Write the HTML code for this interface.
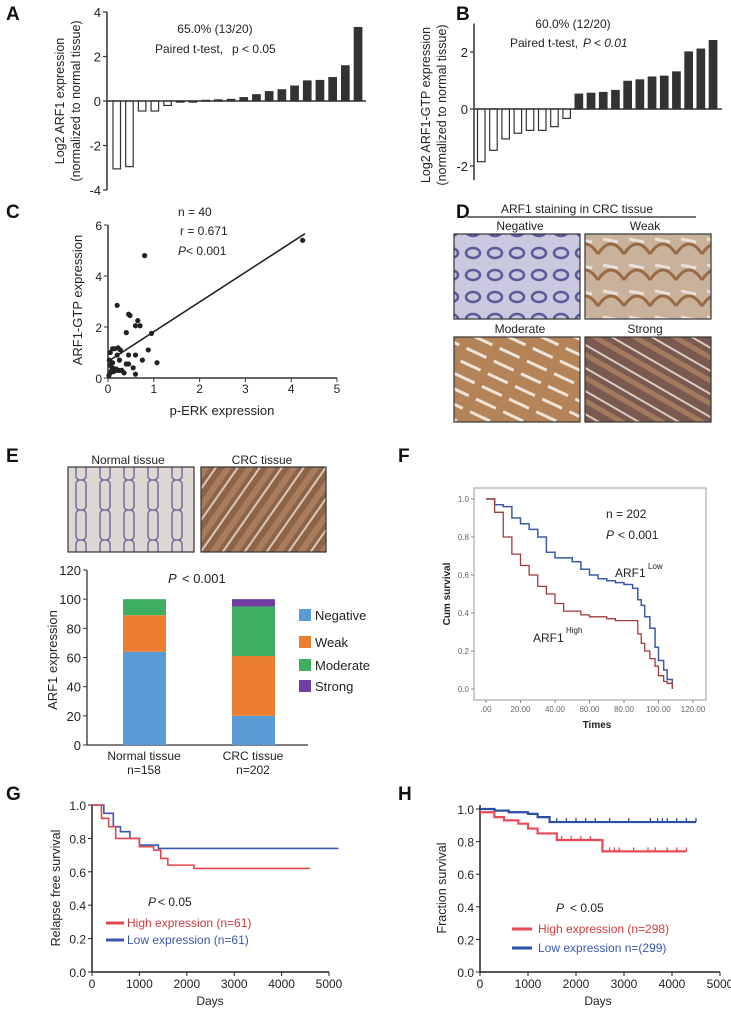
<!DOCTYPE html>
<html><head><meta charset="utf-8">
<style>
html,body{margin:0;padding:0;background:#fff;}
svg{display:block;font-family:"Liberation Sans",Arial,sans-serif;}
</style></head>
<body>
<svg id="fig" width="731" height="1011" viewBox="0 0 731 1011" xmlns="http://www.w3.org/2000/svg">
<defs>
<pattern id="pNeg" width="22" height="22" patternUnits="userSpaceOnUse"><rect width="22" height="22" fill="#c9c8de"/><ellipse cx="11" cy="11" rx="7" ry="5" fill="none" stroke="#5a5a9a" stroke-width="2.5"/></pattern>
<pattern id="pWeak" width="26" height="26" patternUnits="userSpaceOnUse"><rect width="26" height="26" fill="#c9b29c"/><path d="M0 20 Q13 0 26 20" fill="none" stroke="#9a6a45" stroke-width="3"/><path d="M5 5 L20 8" stroke="#e8e0d8" stroke-width="3"/></pattern>
<pattern id="pMod" width="30" height="14" patternUnits="userSpaceOnUse" patternTransform="rotate(25)"><rect width="30" height="14" fill="#b48458"/><rect y="5" width="22" height="3" fill="#efe4da"/></pattern>
<pattern id="pStr" width="20" height="20" patternUnits="userSpaceOnUse" patternTransform="rotate(-60)"><rect width="20" height="20" fill="#7a5a50"/><rect x="3" width="5" height="20" fill="#a37a5c"/><rect x="13" width="2" height="20" fill="#d9cbc2"/></pattern>
<pattern id="pNorm" width="24" height="30" patternUnits="userSpaceOnUse"><rect width="24" height="30" fill="#ddd6d2"/><rect x="4" y="0" width="10" height="30" rx="4" fill="none" stroke="#6f6fa0" stroke-width="1.5"/></pattern>
<pattern id="pCrc" width="18" height="18" patternUnits="userSpaceOnUse" patternTransform="rotate(35)"><rect width="18" height="18" fill="#8e6448"/><rect x="2" width="6" height="18" fill="#a87c5c"/><rect x="12" width="2" height="18" fill="#d8c8bc"/></pattern>
</defs>
</svg>
<script>
// ---------------- DATA ----------------
const aValues = [-3.05,-2.95,-0.45,-0.45,-0.2,-0.05,-0.05,0.03,0.05,0.07,0.15,0.28,0.42,0.5,0.67,0.9,0.92,1.05,1.58,3.3];
const aTicks = [4,2,0,-2,-4];
const bValues = [-1.85,-1.45,-1.05,-0.85,-0.75,-0.75,-0.62,-0.33,0.52,0.55,0.58,0.65,0.97,1.02,1.12,1.15,1.3,2.0,2.1,2.4];
const bTicks = [2,0,-2];
const cX = [0.8,4.25,0.2,0.45,0.48,0.65,0.7,0.6,0.4,0.95,0.15,0.22,0.1,0.27,0.88,0.05,0.2,0.45,0.6,0.75,0.25,0.1,1.07,0.4,0.45,0.55,0.05,0.1,0.15,0.2,0.3,0.35,0.05,0.08,0.12,0.6,0.02,0.18,0.25,0.03];
const cY = [4.8,5.4,2.85,2.5,2.45,2.25,2.05,2.05,1.78,1.75,1.15,1.18,1.15,1.1,1.1,1.0,0.9,0.9,0.9,0.7,0.7,0.6,0.6,0.55,0.55,0.4,0.5,0.4,0.35,0.3,0.3,0.2,0.2,0.3,0.25,0.15,0.1,0.35,0.3,0.7];
const cFit = [0.65,1.165];
const cXTicks = [0,1,2,3,4,5];
const cYTicks = [0,2,4,6];
const eGroups = ["Normal tissue","CRC tissue"];
const eCounts = ["n=158","n=202"];
const eCats = ["Negative","Weak","Moderate","Strong"];
const eNormal = [64,25,11,0];
const eCrc = [20,41,34,5];
const eColors = ["#5b9bd5","#ed7d31","#3fae60","#6f3ea0"];
const eTicks = [0,20,40,60,80,100,120];
const fTimes = [0,5,10,15,20,25,30,35,40,45,50,55,60,65,70,75,80,85,88,90,92,95,98,100,103,105,108];
const fLow = [1.0,0.97,0.96,0.9,0.87,0.84,0.8,0.72,0.69,0.69,0.67,0.63,0.6,0.58,0.57,0.56,0.55,0.53,0.47,0.44,0.38,0.32,0.22,0.15,0.1,0.05,0.01];
const fHigh = [1.0,0.93,0.8,0.71,0.65,0.6,0.54,0.5,0.45,0.41,0.41,0.39,0.38,0.38,0.37,0.36,0.36,0.36,0.29,0.24,0.2,0.16,0.12,0.07,0.04,0.03,0.0];
const fXTicks = [0,20,40,60,80,100,120];
const fXLabels = [".00","20.00","40.00","60.00","80.00","100.00","120.00"];
const fYTicks = [0,0.2,0.4,0.6,0.8,1.0];
const fYLabels = ["0.0","0.2","0.4","0.6","0.8","1.0"];
const gTimes = [0,200,350,500,900,1000,1300,1450,1600,2150,4600];
const gHigh = [1.0,0.92,0.87,0.8,0.8,0.75,0.73,0.68,0.64,0.62,0.62];
const gLowTimes = [0,250,450,600,800,1000,1400,5200];
const gLow = [1.0,0.95,0.87,0.84,0.8,0.76,0.74,0.74];
const gXTicks = [0,1000,2000,3000,4000,5000];
const gYTicks = [0,0.2,0.4,0.6,0.8,1.0];
const hLowTimes = [0,300,600,1000,1200,1450,4500];
const hLow = [1.0,0.99,0.98,0.97,0.95,0.92,0.92];
const hLowCensor = [1600,1800,2000,2200,2400,2700,3100,3550,3700,3800,3900,4100,4300,4500];
const hHighTimes = [0,300,500,800,1000,1200,1600,2550,4300];
const hHigh = [0.98,0.95,0.93,0.91,0.88,0.85,0.81,0.74,0.74];
const hHighCensor = [1700,1900,2100,2300,2700,2800,2900,3200,3500,3650,3900,4100,4300];
const hXTicks = [0,1000,2000,3000,4000,5000];
const hYTicks = [0,0.2,0.4,0.6,0.8,1.0];

// ---------------- HELPERS ----------------
const NS="http://www.w3.org/2000/svg";
const svg=document.getElementById('fig');
function mk(tag,attrs,parent){const e=document.createElementNS(NS,tag);for(const k in attrs)e.setAttribute(k,attrs[k]);(parent||svg).appendChild(e);return e;}
function txt(x,y,s,size,anchor,parent,extra){const t=mk('text',Object.assign({x:x,y:y,'font-size':size,'text-anchor':anchor||'start',fill:'#222'},extra||{}),parent);t.textContent=s;return t;}
function lin(d0,d1,r0,r1){return v=>r0+(v-d0)*(r1-r0)/(d1-d0);}
function stepPath(ts,vs,sx,sy){let d='M'+sx(ts[0])+' '+sy(vs[0]);for(let i=1;i<ts.length;i++){d+=' H'+sx(ts[i])+' V'+sy(vs[i]);}return d;}
function stepVal(ts,vs,t){let v=vs[0];for(let i=0;i<ts.length;i++){if(ts[i]<=t)v=vs[i];}return v;}

// panel letters
[["A",6,20],["B",456,20],["C",6,218],["D",456,218],["E",6,462],["F",398,462],["G",6,800],["H",398,800]].forEach(p=>{
 const t=txt(p[1],p[2],p[0],19,'start',svg,{'font-weight':'bold',fill:'#111'});
 
 
});

// ---------------- PANEL A ----------------
(function(){
 const g=mk('g',{});
 
 
 const y=lin(0,4,101,12); const x0=111, step=12.7, bw=7.5;
 aValues.forEach((v,i)=>{
  const top=Math.min(y(v),y(0)), h=Math.abs(y(v)-y(0));
  const r=mk('rect',{x:x0+i*step+2,y:top,width:bw,height:Math.max(h,0.8),fill:v<0?'#fff':'#333',stroke:'#333','stroke-width':1.2},g);
  
  
 });
 mk('line',{x1:107,y1:y(0),x2:366,y2:y(0),stroke:'#333','stroke-width':1.5},g);
 mk('line',{x1:107,y1:y(4),x2:107,y2:y(-4),stroke:'#333','stroke-width':1.5},g);
 aTicks.forEach(t=>{mk('line',{x1:103,y1:y(t),x2:107,y2:y(t),stroke:'#333','stroke-width':1.2},g);txt(101,y(t)+5,String(t),13,'end',g);});
 const yl=txt(0,0,'Log2 ARF1 expression',12.5,'middle',g,{transform:'translate(64,101) rotate(-90)'});
 
 
 txt(0,0,'(normalized to normal tissue)',12.5,'middle',g,{transform:'translate(80,101) rotate(-90)'});
 txt(215,33,'65.0% (13/20)',12,'middle',g);
 txt(155,53,'Paired t-test,',12,'start',g);
 txt(232,53,'p < 0.05',12,'start',g);
})();

// ---------------- PANEL B ----------------
(function(){
 const g=mk('g',{});
 
 
 const y=lin(0,2,109,52); const x0=476, step=12.2, bw=7.5;
 bValues.forEach((v,i)=>{
  const top=Math.min(y(v),y(0)), h=Math.abs(y(v)-y(0));
  const r=mk('rect',{x:x0+i*step+1.5,y:top,width:bw,height:h,fill:v<0?'#fff':'#333',stroke:'#333','stroke-width':1.2},g);
  
  
 });
 mk('line',{x1:474,y1:y(0),x2:722,y2:y(0),stroke:'#333','stroke-width':1.5},g);
 mk('line',{x1:474,y1:y(3),x2:474,y2:y(-2.5),stroke:'#333','stroke-width':1.5},g);
 bTicks.forEach(t=>{mk('line',{x1:470,y1:y(t),x2:474,y2:y(t),stroke:'#333','stroke-width':1.2},g);txt(468,y(t)+5,String(t),13,'end',g);});
 txt(0,0,'Log2 ARF1-GTP expression',12.5,'middle',g,{transform:'translate(430,105) rotate(-90)'});
 txt(0,0,'(normalized to normal tissue)',12.5,'middle',g,{transform:'translate(446,105) rotate(-90)'});
 txt(573,28,'60.0% (12/20)',12,'middle',g);
 txt(510,47,'Paired t-test,',12,'start',g);
 txt(583,47,'P < 0.01',12,'start',g,{'font-style':'italic'});
})();

// ---------------- PANEL C ----------------
(function(){
 const g=mk('g',{});
 
 
 const x=lin(0,5,108,337), y=lin(0,6,378,225);
 mk('line',{x1:108,y1:378,x2:337,y2:378,stroke:'#333','stroke-width':1.5},g);
 mk('line',{x1:108,y1:378,x2:108,y2:225,stroke:'#333','stroke-width':1.5},g);
 cXTicks.forEach(t=>{mk('line',{x1:x(t),y1:378,x2:x(t),y2:382,stroke:'#333'},g);txt(x(t),393,String(t),12,'middle',g);});
 cYTicks.forEach(t=>{mk('line',{x1:104,y1:y(t),x2:108,y2:y(t),stroke:'#333'},g);txt(102,y(t)+5,String(t),12,'end',g);});
 const fl=mk('line',{x1:x(0),y1:y(cFit[0]),x2:x(4.3),y2:y(cFit[0]+cFit[1]*4.3),stroke:'#222','stroke-width':1.6},g);
 
 
 cX.forEach((v,i)=>{
  const c=mk('circle',{cx:x(v),cy:y(cY[i]),r:2.6,fill:'#222'},g);
  
  
 });
 txt(222,415,'p-ERK expression',13,'middle',g);
 txt(0,0,'ARF1-GTP expression',13,'middle',g,{transform:'translate(82,300) rotate(-90)'});
 txt(178,216,'n = 40',12,'start',g);
 txt(180,235,'r = 0.671',12,'start',g);
 txt(178,255,'P',12,'start',g,{'font-style':'italic'});
 txt(186,255,'< 0.001',12,'start',g);
})();

// ---------------- PANEL D ----------------
(function(){
 const g=mk('g',{});
 
 
 txt(577,213,'ARF1 staining in CRC tissue',12,'middle',g);
 mk('line',{x1:467,y1:217,x2:696,y2:217,stroke:'#222','stroke-width':1.2},g);
 txt(520,230,'Negative',12,'middle',g);
 txt(645,230,'Weak',12,'middle',g);
 txt(520,333,'Moderate',12,'middle',g);
 txt(645,333,'Strong',12,'middle',g);
 [["pNeg",454,234,'image-negative'],["pWeak",585,234,'image-weak'],["pMod",454,337,'image-moderate'],["pStr",585,337,'image-strong']].forEach(p=>{
  const r=mk('rect',{x:p[1],y:p[2],width:126,height:85,fill:'url(#'+p[0]+')',stroke:'#333','stroke-width':1.2},g);
  
  
 });
})();

// ---------------- PANEL E ----------------
(function(){
 const g=mk('g',{});
 
 
 txt(128,464,'Normal tissue',12,'middle',g);
 txt(262,464,'CRC tissue',12,'middle',g);
 const i1=mk('rect',{x:68,y:467,width:126,height:85,fill:'url(#pNorm)',stroke:'#333','stroke-width':1.2},g);
 
 
 const i2=mk('rect',{x:201,y:467,width:125,height:85,fill:'url(#pCrc)',stroke:'#333','stroke-width':1.2},g);
 
 
 const y=lin(0,120,745,570);
 mk('line',{x1:87,y1:570,x2:87,y2:745,stroke:'#333','stroke-width':1.3},g);
 mk('line',{x1:87,y1:745,x2:308,y2:745,stroke:'#333','stroke-width':1.3},g);
 eTicks.forEach(t=>{mk('line',{x1:83,y1:y(t),x2:87,y2:y(t),stroke:'#333'},g);txt(81,y(t)+5,String(t),13,'end',g);});
 [eNormal,eCrc].forEach((vals,gi)=>{
  let acc=0; const bx=gi===0?123:232;
  vals.forEach((v,ci)=>{
   if(v<=0)return;
   const r=mk('rect',{x:bx,y:y(acc+v),width:43,height:y(acc)-y(acc+v),fill:eColors[ci]},g);
   
   
   acc+=v;
  });
  txt(bx+21,760,eGroups[gi],12,'middle',g);
  txt(bx+21,774,eCounts[gi],12,'middle',g);
 });
 txt(0,0,'ARF1 expression',13,'middle',g,{transform:'translate(57,660) rotate(-90)'});
 txt(168,583,'P',13,'start',g,{'font-style':'italic'});
 txt(182,583,'< 0.001',13,'start',g);
 eCats.forEach((c,i)=>{
  const ly=[615,642,665,686][i];
  const r=mk('rect',{x:299,y:ly-6,width:12,height:12,fill:eColors[i]},g);
  
  
  txt(315,ly+5,c,13,'start',g);
 });
})();

// ---------------- PANEL F ----------------
(function(){
 const g=mk('g',{});
 
 
 mk('rect',{x:474,y:488,width:232,height:212,fill:'none',stroke:'#999','stroke-width':1},g);
 const x=lin(0,120,486,693), y=lin(0,1,689,499);
 fXTicks.forEach((t,i)=>{mk('line',{x1:x(t),y1:700,x2:x(t),y2:703,stroke:'#888'},g);txt(x(t),712,fXLabels[i],8,'middle',g,{fill:'#666'});});
 fYTicks.forEach((t,i)=>{mk('line',{x1:471,y1:y(t),x2:474,y2:y(t),stroke:'#888'},g);txt(469,y(t)+3,fYLabels[i],8,'end',g,{fill:'#666'});});
 const pl=mk('path',{d:stepPath(fTimes,fLow,x,y),fill:'none',stroke:'#3b5ba8','stroke-width':1.5},g);
 
 
 const ph=mk('path',{d:stepPath(fTimes,fHigh,x,y),fill:'none',stroke:'#a33a3a','stroke-width':1.3},g);
 
 
 txt(597,728,'Times',10,'middle',g,{'font-weight':'bold'});
 txt(0,0,'Cum survival',10,'middle',g,{transform:'translate(450,594) rotate(-90)','font-weight':'bold'});
 txt(606,518,'n  = 202',12,'start',g);
 txt(606,539,'P',12,'start',g,{'font-style':'italic'});
 txt(618,539,'< 0.001',12,'start',g);
 txt(615,577,'ARF1',12,'start',g);
 txt(648,569,'Low',8,'start',g);
 txt(533,642,'ARF1',12,'start',g);
 txt(566,633,'High',8,'start',g);
})();

// ---------------- PANEL G ----------------
(function(){
 const g=mk('g',{});
 
 
 const x=lin(0,5000,92,329), y=lin(0,1,972,805);
 mk('line',{x1:92,y1:972,x2:329,y2:972,stroke:'#222','stroke-width':1.5},g);
 mk('line',{x1:92,y1:972,x2:92,y2:805,stroke:'#222','stroke-width':1.5},g);
 gXTicks.forEach(t=>{mk('line',{x1:x(t),y1:972,x2:x(t),y2:976,stroke:'#222'},g);txt(x(t),988,String(t),12,'middle',g);});
 gYTicks.forEach(t=>{mk('line',{x1:88,y1:y(t),x2:92,y2:y(t),stroke:'#222'},g);txt(86,y(t)+5,t.toFixed(1),12,'end',g);});
 const pl=mk('path',{d:stepPath(gLowTimes,gLow,x,y),fill:'none',stroke:'#3c57b0','stroke-width':1.6},g);
 
 
 const ph=mk('path',{d:stepPath(gTimes,gHigh,x,y),fill:'none',stroke:'#e0474c','stroke-width':1.6},g);
 
 
 txt(210,1005,'Days',12,'middle',g);
 txt(0,0,'Relapse free survival',12.5,'middle',g,{transform:'translate(60,888) rotate(-90)'});
 txt(148,906,'P',12,'start',g,{'font-style':'italic'});
 txt(158,906,'< 0.05',12,'start',g);
 mk('line',{x1:106,y1:923,x2:124,y2:923,stroke:'#e0474c','stroke-width':3},g);
 txt(127,927,'High expression (n=61)',12,'start',g,{fill:'#d03a3e'});
 mk('line',{x1:106,y1:940,x2:124,y2:940,stroke:'#3c57b0','stroke-width':3},g);
 txt(127,944,'Low expression (n=61)',12,'start',g,{fill:'#3c57b0'});
})();

// ---------------- PANEL H ----------------
(function(){
 const g=mk('g',{});
 
 
 const x=lin(0,5000,480,720), y=lin(0,1,972,809);
 mk('line',{x1:480,y1:972,x2:720,y2:972,stroke:'#222','stroke-width':1.5},g);
 mk('line',{x1:480,y1:972,x2:480,y2:805,stroke:'#222','stroke-width':1.5},g);
 hXTicks.forEach(t=>{mk('line',{x1:x(t),y1:972,x2:x(t),y2:976,stroke:'#222'},g);txt(x(t),988,String(t),12,'middle',g);});
 hYTicks.forEach(t=>{mk('line',{x1:476,y1:y(t),x2:480,y2:y(t),stroke:'#222'},g);txt(474,y(t)+5,t.toFixed(1),12,'end',g);});
 const pl=mk('path',{d:stepPath(hLowTimes,hLow,x,y),fill:'none',stroke:'#2a4fa8','stroke-width':2.2},g);
 
 
 hLowCensor.forEach(t=>{const yy=y(stepVal(hLowTimes,hLow,t));mk('line',{x1:x(t),y1:yy-4,x2:x(t),y2:yy,stroke:'#2a4fa8','stroke-width':1.3},g);});
 const ph=mk('path',{d:stepPath(hHighTimes,hHigh,x,y),fill:'none',stroke:'#ea4a55','stroke-width':2.2},g);
 
 
 hHighCensor.forEach(t=>{const yy=y(stepVal(hHighTimes,hHigh,t));mk('line',{x1:x(t),y1:yy-4,x2:x(t),y2:yy,stroke:'#ea4a55','stroke-width':1.3},g);});
 txt(598,1005,'Days',12,'middle',g);
 txt(0,0,'Fraction survival',12.5,'middle',g,{transform:'translate(446,888) rotate(-90)'});
 txt(556,912,'P',12,'start',g,{'font-style':'italic'});
 txt(570,912,'< 0.05',12,'start',g);
 mk('line',{x1:512,y1:929,x2:532,y2:929,stroke:'#ea4a55','stroke-width':3},g);
 txt(538,933,'High expression (n=298)',12,'start',g,{fill:'#d03a3e'});
 mk('line',{x1:512,y1:948,x2:532,y2:948,stroke:'#2a4fa8','stroke-width':3},g);
 txt(538,952,'Low expression n=(299)',12,'start',g,{fill:'#3c57b0'});
})();
</script>
</body></html>
